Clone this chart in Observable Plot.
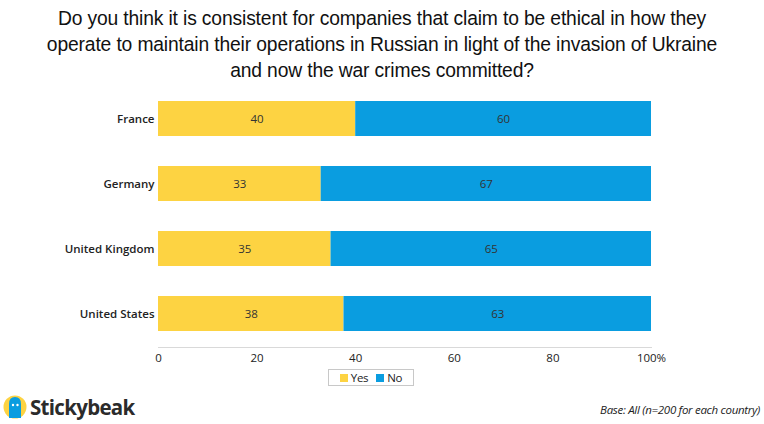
<!DOCTYPE html>
<html>
<head>
<meta charset="utf-8">
<script src="https://cdn.jsdelivr.net/npm/d3@7"></script>
<script src="https://cdn.jsdelivr.net/npm/@observablehq/plot@0.6"></script>
<style>
  html, body { margin: 0; padding: 0; background: #fff; }
  #wrap { position: relative; width: 764px; height: 424px; overflow: hidden; }
  #title { position: absolute; left: 0; top: 6px; width: 764px; text-align: center;
    font-family: "Liberation Sans", Arial, sans-serif; font-size: 19.3px; line-height: 26px; color: #111;
    letter-spacing: -0.15px; }
  #chart { position: absolute; left: 0; top: 86px; }
  #legend { position: absolute; left: 328px; top: 369px; width: 86px; height: 17px; border: 1px solid #c8c8c8;
    font-family: "Open Sans", sans-serif; font-size: 11.5px; color: #222; display: flex; align-items: center; justify-content: center; gap: 2px; box-sizing: border-box; }
  #legend .sw { display: inline-block; width: 8px; height: 8px; margin-right: 3px; }
  #legend .item { display: inline-flex; align-items: center; margin: 0 3px; letter-spacing: -0.3px; }
  #logo { position: absolute; left: 3px; top: 393px; display: flex; align-items: center; }
  #logo .word { font-family: "Open Sans", sans-serif; font-weight: 700; font-size: 20.5px; color: #2b2b2b; margin-left: 3px; letter-spacing: -0.7px; }
  #base { position: absolute; right: 4px; top: 402px; font-family: "Open Sans", sans-serif; font-style: italic;
    font-size: 11.5px; color: #222; letter-spacing: -0.3px; }
</style>
</head>
<body>
<div id="wrap">
  <div id="title">Do you think it is consistent for companies that claim to be ethical in how they<br>operate to maintain their operations in Russian in light of the invasion of Ukraine<br>and now the war crimes committed?</div>
  <div id="chart"></div>
  <div id="legend"></div>
  <div id="logo">
    <svg width="24" height="28" viewBox="0 0 24 28">
      <circle cx="12" cy="14" r="11.5" fill="#FDD342"/>
      <path d="M6 25 L6 11 Q6 4 12 4 Q18 4 18 11 L18 25 Z" fill="#0A9DE0"/>
      <circle cx="10" cy="12" r="1.2" fill="#fff"/>
      <circle cx="14.5" cy="12" r="1.2" fill="#fff"/>
    </svg>
    <span class="word">Stickybeak</span>
  </div>
  <div id="base">Base: All (n=200 for each country)</div>
</div>
<script>
const countries = ["France", "Germany", "United Kingdom", "United States"];
const answers = ["Yes", "No"];
const yesValues = [40, 33, 35, 38];
const noValues = [60, 67, 65, 63];
const colors = ["#FDD342", "#0A9DE0"];
const xTicks = [0, 20, 40, 60, 80, 100];

const data = [];
countries.forEach((c, i) => {
  data.push({country: c, answer: "Yes", value: yesValues[i]});
  data.push({country: c, answer: "No", value: noValues[i]});
});

const chart = Plot.plot({
  width: 764,
  height: 289,
  marginTop: 0,
  marginBottom: 28,
  marginLeft: 158,
  marginRight: 113,
  style: {fontFamily: "'Open Sans', sans-serif", fontSize: "11.5px", color: "#222"},
  x: {domain: [0, 100], percent: true, label: null},
  y: {domain: countries, label: null, paddingInner: 0.46, paddingOuter: 0.23},
  color: {domain: answers, range: colors},
  marks: [
    Plot.frame({anchor: "bottom", stroke: "#d9d9d9"}),
    Plot.barX(data, Plot.stackX({x: "value", y: "country", fill: "answer", offset: "normalize"})),
    Plot.text(data, Plot.stackX({x: "value", y: "country", z: "answer", text: d => String(d.value), offset: "normalize", fill: "#333", fontSize: 11.5})),
    Plot.axisY({tickSize: 0, tickPadding: 4, fontWeight: 600, fill: "#222", fontSize: 11.5}),
    Plot.axisX({ticks: xTicks, tickSize: 0, tickPadding: 6, tickFormat: d => d === 100 ? "100%" : String(d), fill: "#222", fontSize: 11.5})
  ]
});
document.getElementById("chart").appendChild(chart);

const legend = document.getElementById("legend");
answers.forEach((a, i) => {
  const item = document.createElement("span");
  item.className = "item";
  item.innerHTML = `<span class="sw" style="background:${colors[i]}"></span>${a}`;
  legend.appendChild(item);
});
</script>
</body>
</html>
